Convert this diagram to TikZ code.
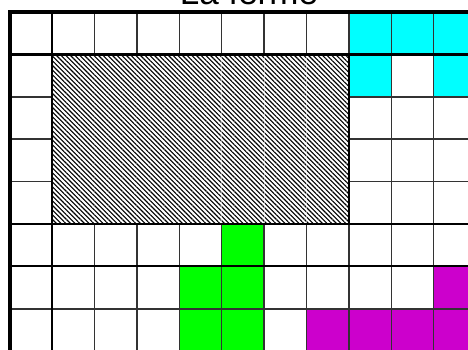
\documentclass[tikz,border=0pt]{standalone}
\usepackage{fontspec}
\setmainfont{Liberation Sans}
\usetikzlibrary{patterns.meta}
\definecolor{cyanc}{HTML}{00FFFF}
\definecolor{greenc}{HTML}{00FF00}
\definecolor{magc}{HTML}{CC00CC}
\tikzset{
  gridline/.style={line width=1.5pt, black!80},
  zoneline/.style={line width=2.4pt, black},
  outerline/.style={line width=3.6pt, black},
  hatch/.style={pattern={Lines[angle=-45,distance=3.3pt,line width=1.1pt]}, pattern color=black},
}
\begin{document}
\begin{tikzpicture}[x=1pt,y=1pt]
\useasboundingbox (0,0) rectangle (468,349);
\clip (0,0) rectangle (468,349);
\fill[white] (0,0) rectangle (468,349);
\node[anchor=base, font=\fontsize{35}{40}\selectfont, inner sep=0pt] (title) at (249,344.6) {La ferme};
\begin{scope}[shift={(9.7,337)}, x=42.4pt, y=-42.4pt]
  % coloured parcels
  \fill[cyanc] (8,0) rectangle (11,1);
  \fill[cyanc] (8,1) rectangle (9,2);
  \fill[cyanc] (10,1) rectangle (11,2);
  \fill[greenc] (5,5) rectangle (6,6);
  \fill[greenc] (4,6) rectangle (6,8.3);
  \fill[magc] (10,6) rectangle (11.3,7);
  \fill[magc] (7,7) rectangle (11.3,8.3);
  % grid
  \foreach \i in {0,...,11} \draw[gridline] (\i,0) -- (\i,8.3);
  \foreach \j in {0,...,8} \draw[gridline] (0,\j) -- (11.3,\j);
  % hatched block
  \fill[white] (1,1) rectangle (8,5);
  \fill[hatch] (1,1) rectangle (8,5);
  \foreach \i in {5,6,7} \draw[white, opacity=0.55, line width=1.2pt] (\i,1) -- (\i,5);
  \draw[line width=1.4pt, black] (1,1) rectangle (8,5);
  % thicker lines
  \draw[zoneline] (1,0) -- (1,8.3);
  \draw[zoneline] (0,1) -- (11.3,1);
  \draw[line width=1.9pt] (0,5) -- (11.3,5);
  \draw[line width=1.9pt] (0,6) -- (11.3,6);
  \draw[outerline] (0,8.3) -- (0,0) -- (11.3,0);
\end{scope}
\end{tikzpicture}
\end{document}
